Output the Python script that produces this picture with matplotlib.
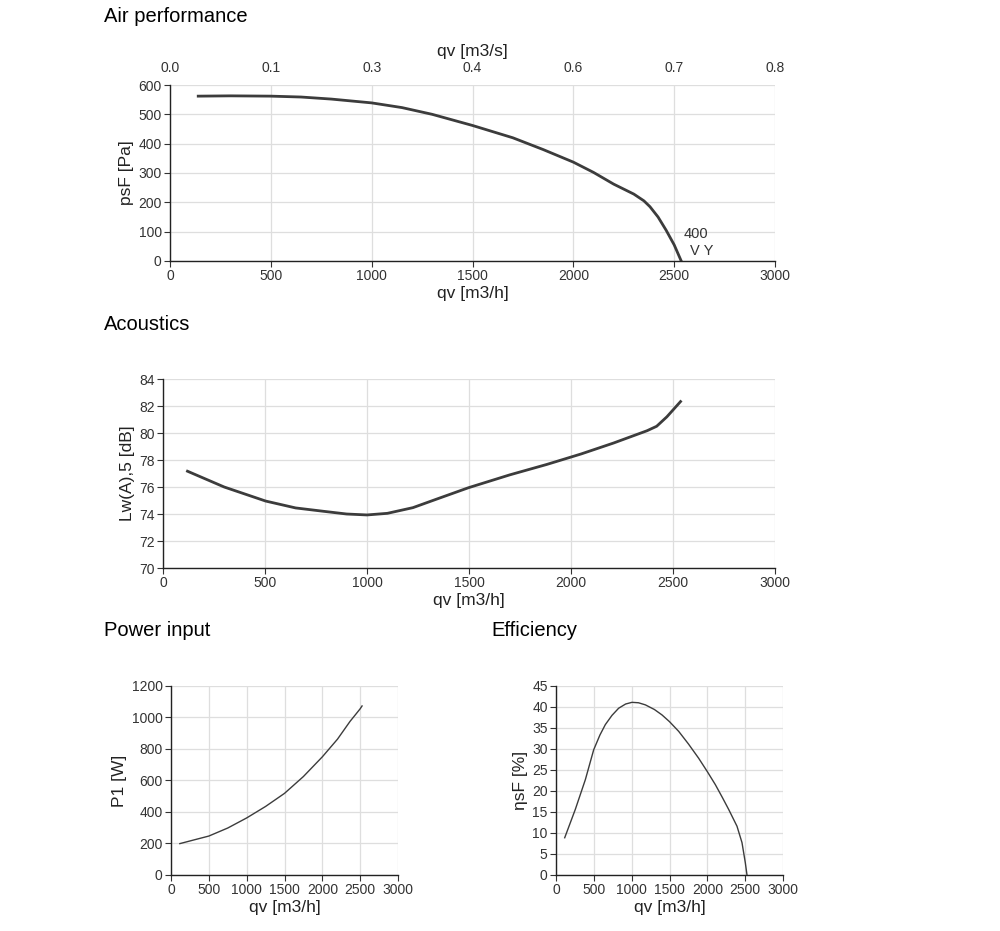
import matplotlib
matplotlib.use('Agg')
import matplotlib.pyplot as plt
import numpy as np

plt.rcParams['font.family'] = ['Liberation Sans Narrow', 'Liberation Sans', 'DejaVu Sans']

# air performance: qv [m3/h] vs psF [Pa]
air_qv = [140, 300, 500, 650, 800, 1000, 1150, 1300, 1500, 1700, 1850, 2000, 2100, 2200, 2300, 2350, 2380, 2420, 2460, 2500, 2535]
air_ps = [562, 563, 562, 559, 552, 539, 523, 500, 462, 420, 380, 337, 302, 262, 228, 205, 185, 150, 105, 55, 0]

# acoustics: qv vs Lw(A),5 [dB]
ac_qv = [120, 300, 503, 650, 787, 900, 1000, 1100, 1225, 1350, 1498, 1700, 1881, 2050, 2209, 2373, 2420, 2470, 2537]
ac_lw = [77.17, 76.0, 74.96, 74.45, 74.2, 74.0, 73.93, 74.05, 74.47, 75.15, 75.95, 76.9, 77.67, 78.45, 79.26, 80.17, 80.5, 81.2, 82.33]

# power input: qv vs P1 [W]
pw_qv = [117, 300, 500, 750, 1000, 1250, 1500, 1750, 2000, 2200, 2366, 2450, 2500, 2525]
pw_p1 = [199, 222, 247, 298, 362, 435, 518, 625, 750, 862, 975, 1025, 1055, 1073]

# efficiency: qv vs etasF [%]
ef_qv = [115, 255, 388, 498, 580, 652, 740, 828, 920, 1004, 1090, 1181, 1300, 1401, 1500, 1621, 1750, 1885, 2000, 2106, 2200, 2282, 2392, 2458, 2502, 2524]
ef_eta = [8.86, 15.6, 22.7, 29.8, 33.3, 35.8, 38.0, 39.7, 40.7, 41.1, 41.0, 40.5, 39.4, 38.1, 36.5, 34.2, 31.2, 27.8, 24.6, 21.5, 18.4, 15.6, 11.6, 7.7, 2.9, 0]

fig = plt.figure(figsize=(10, 9.31), dpi=100)

tickcol = '#333333'
gridcol = '#dedede'
linecol = '#3c3c3c'
labfont = ['Liberation Sans', 'DejaVu Sans']

def style(ax, xmax, ymin, ymax, ystep, xstep, ylabel):
    ax.set_xlim(0, xmax)
    ax.set_ylim(ymin, ymax)
    ax.set_xticks(np.arange(0, xmax + 1, xstep))
    ax.set_yticks(np.arange(ymin, ymax + 0.001, ystep))
    ax.grid(True, color=gridcol, lw=0.9)
    ax.set_axisbelow(True)
    for s in ['top', 'right']:
        ax.spines[s].set_visible(False)
    for s in ['left', 'bottom']:
        ax.spines[s].set_color('#222222')
        ax.spines[s].set_linewidth(1.0)
    ax.tick_params(labelsize=10, colors=tickcol, length=4, width=0.8, pad=2)
    ax.set_xlabel('qv [m3/h]', fontsize=12.5, color='#222222', labelpad=2, family=labfont)
    ax.set_ylabel(ylabel, fontsize=12.5, color='#222222', labelpad=3, family=labfont)

# Air performance
ax1 = fig.add_axes([0.170, 0.7197, 0.605, 0.189])
ax1.plot(air_qv, air_ps, color=linecol, lw=2)
style(ax1, 3000, 0, 600, 100, 500, 'psF [Pa]')
ax1.text(2545, 78, '400', fontsize=10.5, color=tickcol)
ax1.text(2580, 20, 'V Y', fontsize=10.5, color=tickcol)
top = ax1.secondary_xaxis('top')
top_pos = np.arange(0, 3001, 500)
top.set_xticks(top_pos)
top.set_xticklabels(['%.1f' % (v / 3600) for v in top_pos])
top.spines['top'].set_visible(False)
top.tick_params(labelsize=10, colors=tickcol, length=0, pad=7)
top.set_xlabel('qv [m3/s]', fontsize=12.5, color='#222222', labelpad=4, family=labfont)

# Acoustics
ax2 = fig.add_axes([0.163, 0.3899, 0.612, 0.203])
ax2.plot(ac_qv, ac_lw, color=linecol, lw=2)
style(ax2, 3000, 70, 84, 2, 500, 'Lw(A),5 [dB]')

# Power input
ax3 = fig.add_axes([0.171, 0.0602, 0.227, 0.203])
ax3.plot(pw_qv, pw_p1, color=linecol, lw=1)
style(ax3, 3000, 0, 1200, 200, 500, 'P1 [W]')

# Efficiency
ax4 = fig.add_axes([0.556, 0.0602, 0.227, 0.203])
ax4.plot(ef_qv, ef_eta, color=linecol, lw=1)
style(ax4, 3000, 0, 45, 5, 500, 'ηsF [%]')

fig.text(0.104, 1 - 17 / 931, 'Air performance', fontsize=14.5, va='center', family=labfont)
fig.text(0.104, 1 - 324 / 931, 'Acoustics', fontsize=14.5, va='center', family=labfont)
fig.text(0.104, 1 - 631 / 931, 'Power input', fontsize=14.5, va='center', family=labfont)
fig.text(0.491, 1 - 631 / 931, 'Efficiency', fontsize=14.5, va='center', family=labfont)

fig.savefig('out.png', dpi=100, facecolor='white')
